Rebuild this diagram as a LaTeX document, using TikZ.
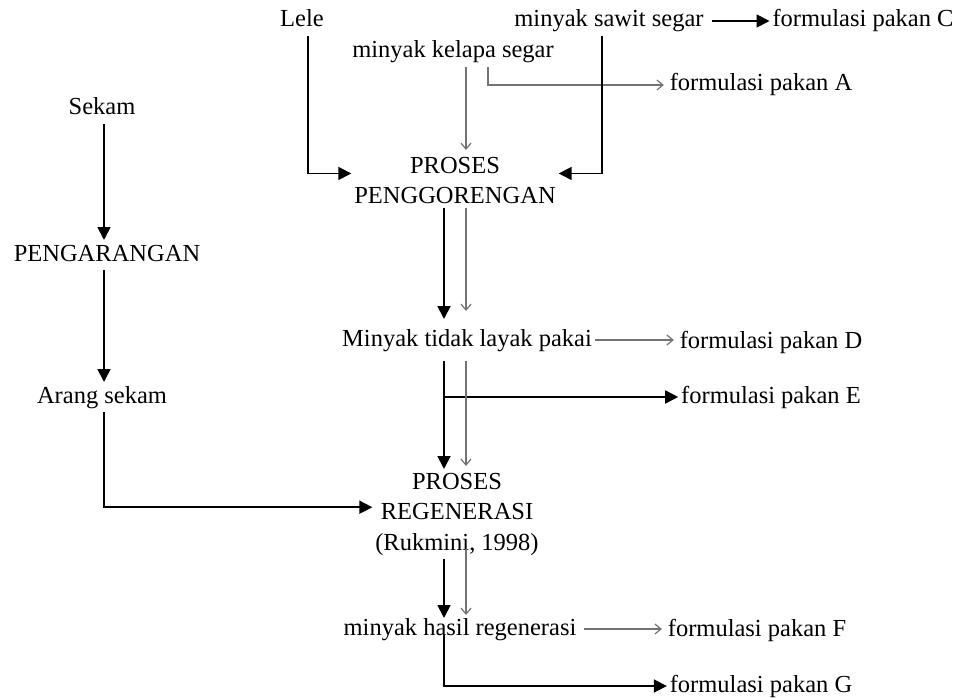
\documentclass[tikz,border=0pt]{standalone}
\usepackage{fontspec}
\setmainfont{Liberation Serif}
\usetikzlibrary{arrows.meta}

\begin{document}
\begin{tikzpicture}[x=1pt,y=-1pt]
    \tikzset{every node/.style={font=\fontsize{24.5}{30.5}\selectfont}}
    \tikzset{
      lbl/.style={inner sep=0pt,text height=17pt,text depth=5pt,outer xsep=3pt,outer ysep=4pt,anchor=base},
      blk/.style={draw=black,line width=1.8pt,-{Triangle[length=13pt,width=13pt]}},
      gry/.style={draw=black!55,line width=1.2pt,shorten >=3pt,-{Straight Barb[length=6pt,width=10pt]}}
    }
    \useasboundingbox (0,0) rectangle (961,698);
    \coordinate (cl) at (308,0);
    \coordinate (cs) at (602,0);
    \coordinate (ca) at (488,0);
    \coordinate (cb) at (444,0);
    \coordinate (cg) at (466,0);
    \coordinate (ck) at (104,0);
    \node[lbl] (lele) at (302,27) {Lele};
    \node[lbl] (sawit) at (609,27) {minyak sawit segar};
    \node[lbl] (fC) at (863,27) {formulasi pakan C};
    \node[lbl] (kelapa) at (453,58) {minyak kelapa segar};
    \node[lbl] (fA) at (761,91) {formulasi pakan A};
    \node[lbl] (sekam) at (102,115) {Sekam};
    \node[inner sep=0pt,outer xsep=3pt,outer ysep=4pt,align=center,anchor=north] (pgr) at (455,153) {PROSES\\PENGGORENGAN};
    \node[lbl] (pengarangan) at (107,261) {PENGARANGAN};
    \node[lbl,outer ysep=10pt] (mtl) at (467,346) {Minyak tidak layak pakai};
    \node[lbl] (fD) at (771,348) {formulasi pakan D};
    \node[lbl] (arang) at (102,403) {Arang sekam};
    \node[lbl] (fE) at (771,403) {formulasi pakan E};
    \node[inner sep=0pt,outer xsep=3pt,outer ysep=4pt,align=center,anchor=north] (pr) at (457,469) {PROSES\\REGENERASI\\(Rukmini, 1998)};
    \node[lbl,outer ysep=0pt] (mhr) at (460,635) {minyak hasil regenerasi};
    \node[lbl] (fF) at (757,636) {formulasi pakan F};
    \node[lbl] (fG) at (761,692) {formulasi pakan G};
    \draw[blk] ([xshift=5pt]sawit.east) -- (fC.west);
    \draw[gry] (kelapa.south -| cg) -- (pgr.north -| cg);
    \draw[gry] (kelapa.south -| ca) |- (fA.west);
    \draw[blk] (lele.south -| cl) |- ([yshift=7pt]pgr.west);
    \draw[blk] (sawit.south -| cs) |- ([yshift=7pt]pgr.east);
    \draw[blk] (sekam.south -| ck) -- (pengarangan.north -| ck);
    \draw[blk] (pengarangan.south -| ck) -- (arang.north -| ck);
    \draw[blk] (arang.south -| ck) |- ([yshift=7pt]pr.west);
    \draw[blk] (pgr.south -| cb) -- (mtl.north -| cb);
    \draw[gry,shorten >=8pt] (pgr.south -| cg) -- (mtl.north -| cg);
    \draw[gry] (mtl.east) -- (mtl.east -| fD.west);
    \draw[blk] (mtl.south -| cb) -- (pr.north -| cb);
    \draw[blk] (mtl.south -| cb) |- (fE.west);
    \draw[gry] (mtl.south -| cg) -- (pr.north -| cg);
    \draw[blk] (pr.south -| cb) -- (mhr.north -| cb);
    \draw[gry,shorten <=-10pt] (pr.south -| cg) -- (mhr.north -| cg);
    \draw[gry] ([xshift=5pt]mhr.east) -- (mhr.east -| fF.west);
    \draw[blk] (mhr.base -| cb) |- (fG.west);
\end{tikzpicture}
\end{document}
